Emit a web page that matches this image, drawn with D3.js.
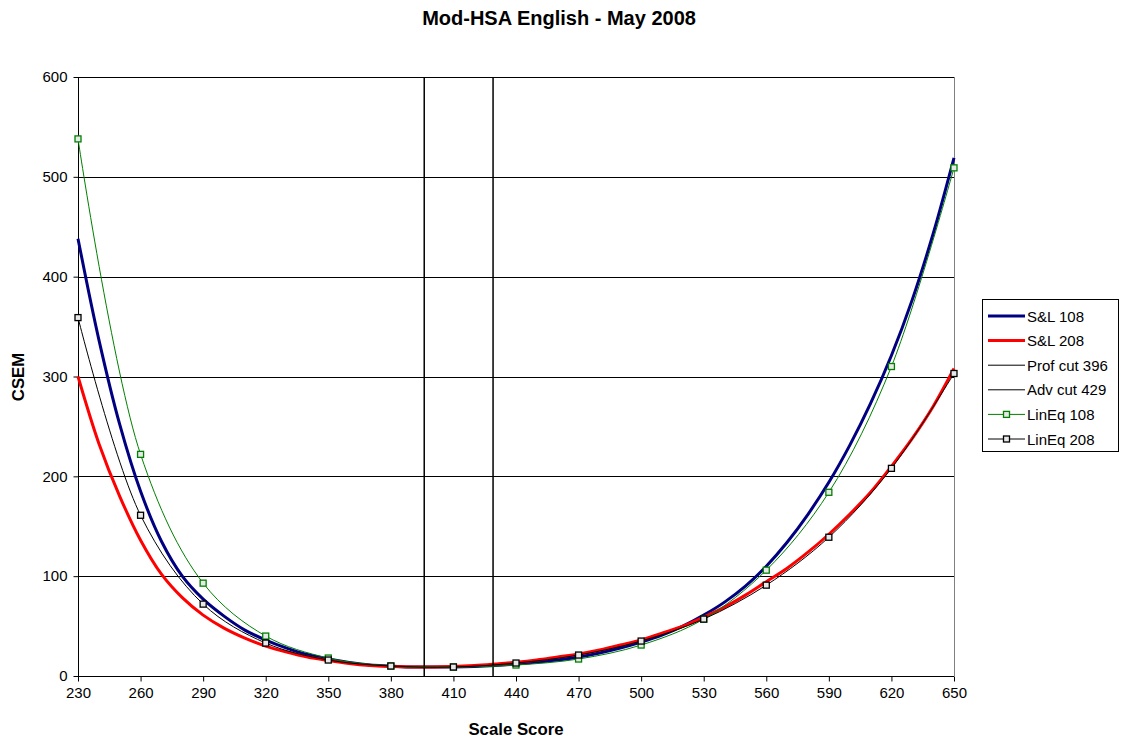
<!DOCTYPE html>
<html>
<head>
<meta charset="utf-8">
<script src="https://cdn.jsdelivr.net/npm/d3@7"></script>
<style>
  html, body { margin: 0; padding: 0; background: #fff; }
  svg { display: block; font-family: "Liberation Sans", Arial, sans-serif; }
</style>
</head>
<body>
<svg id="chart" width="1121" height="743"></svg>
<script>
// ---- data ----
const slScores = [230,240,250,260,270,280,290,300,310,320,330,340,350,360,370,380,390,400,410,420,430,440,450,460,470,480,490,500,510,520,530,540,550,560,570,580,590,600,610,620,630,640,650];
const sl108 = [438,337,252,185,135,100,77,60,46,36,28,21.5,17,13.5,11,10,9,9,9,9.5,10.5,12,14,16,19,23,28,34,41,50,61,74,90,110,134,162,194,231,273,321,377,443,519];
const sl208 = [300,233,180,136,102,78.5,61,48,38,30,24,19,15.5,12.5,10.5,9.5,9,9,9.5,10.5,12,13.7,16,19,22,26,31,36,43,50,59,69,81,94.5,108,124,142,162,184,210,238,270,308];
const linScores = [230,260,290,320,350,380,410,440,470,500,530,560,590,620,650];
const linEq108 = [538,222,93,40,18,10,9,11,17,31,57,106,184,310,509];
const linEq208 = [359,161,72,33,16,10,9,13,21,35,57,91,139,208,303];
const profCut = 396;
const advCut = 429;
const xTicks = [230,260,290,320,350,380,410,440,470,500,530,560,590,620,650];
const yTicks = [0,100,200,300,400,500,600];
const seriesNames = ["S&L 108","S&L 208","Prof cut 396","Adv cut 429","LinEq 108","LinEq 208"];

// ---- layout ----
const svg = d3.select("#chart");
const L = 78, R = 954, T = 77, B = 676;
const x = d3.scaleLinear().domain([230,650]).range([L,R]);
const y = d3.scaleLinear().domain([0,600]).range([B,T]);

// gridlines
svg.append("g").selectAll("line").data(yTicks.filter(d => d > 0)).join("line")
  .attr("x1", L).attr("x2", R)
  .attr("y1", d => Math.round(y(d)) + 0.5).attr("y2", d => Math.round(y(d)) + 0.5)
  .attr("stroke", "#000").attr("stroke-width", 1);

// plot area right border
svg.append("line").attr("x1", R + 0.5).attr("x2", R + 0.5).attr("y1", T).attr("y2", B)
  .attr("stroke", "#808080").attr("stroke-width", 1);

// axes
const xAxis = d3.axisBottom(x).tickValues(xTicks).tickSize(5).tickPadding(6).tickFormat(d3.format("d"));
const gx = svg.append("g").attr("transform", `translate(0,${B + 0.5})`).call(xAxis);
const yAxis = d3.axisLeft(y).tickValues(yTicks).tickSize(5).tickPadding(6).tickFormat(d3.format("d"));
const gy = svg.append("g").attr("transform", `translate(${L + 0.5},0)`).call(yAxis);
[gx, gy].forEach(g => {
  g.selectAll("path").attr("stroke", "#000");
  g.selectAll("line").attr("stroke", "#000");
  g.selectAll("text").attr("font-size", 15).attr("fill", "#000")
    .attr("font-family", "'Liberation Sans', Arial, sans-serif");
});
gx.select(".domain").attr("d", `M${L},0H${R}`);
gy.select(".domain").attr("d", `M0,${T}V${B}`);

// series
const lineGen = d3.line().x(d => x(d[0])).y(d => y(d[1])).curve(d3.curveCatmullRom.alpha(0.5));
const plot = svg.append("g");

plot.append("path").datum(slScores.map((s,i) => [s, sl108[i]]))
  .attr("d", lineGen).attr("fill", "none").attr("stroke", "#000080").attr("stroke-width", 3);
plot.append("path").datum(slScores.map((s,i) => [s, sl208[i]]))
  .attr("d", lineGen).attr("fill", "none").attr("stroke", "#ff0000").attr("stroke-width", 3);

[profCut, advCut].forEach(c => {
  plot.append("line").attr("x1", x(c)).attr("x2", x(c)).attr("y1", y(0)).attr("y2", y(600))
    .attr("stroke", "#000").attr("stroke-width", 1.5);
});

const linSeries = [
  {vals: linEq108, color: "#008000"},
  {vals: linEq208, color: "#000000"}
];
linSeries.forEach(s => {
  const pts = linScores.map((sc,i) => [sc, s.vals[i]]);
  plot.append("path").datum(pts).attr("d", lineGen)
    .attr("fill", "none").attr("stroke", s.color).attr("stroke-width", 1);
  plot.append("g").selectAll("rect").data(pts).join("rect")
    .attr("x", d => x(d[0]) - 3).attr("y", d => y(d[1]) - 3)
    .attr("width", 6).attr("height", 6)
    .attr("fill", "#e8e8e8").attr("stroke", s.color).attr("stroke-width", 1.3);
});

// title & axis labels
svg.append("text").attr("x", 559).attr("y", 25).attr("text-anchor", "middle")
  .attr("font-size", 20).attr("font-weight", "bold").text("Mod-HSA English - May 2008");
svg.append("text").attr("x", 516).attr("y", 735).attr("text-anchor", "middle")
  .attr("font-size", 16.8).attr("font-weight", "bold").text("Scale Score");
svg.append("text").attr("transform", "translate(24,377) rotate(-90)").attr("text-anchor", "middle")
  .attr("font-size", 16.8).attr("font-weight", "bold").text("CSEM");

// legend
const lg = svg.append("g");
lg.append("rect").attr("x", 982.5).attr("y", 299.5).attr("width", 136).attr("height", 152)
  .attr("fill", "#fff").attr("stroke", "#000").attr("stroke-width", 1);
const legStyles = [
  {color: "#000080", w: 3, marker: false},
  {color: "#ff0000", w: 3, marker: false},
  {color: "#000", w: 1, marker: false},
  {color: "#000", w: 1, marker: false},
  {color: "#008000", w: 1, marker: true},
  {color: "#000", w: 1, marker: true}
];
seriesNames.forEach((name, i) => {
  const cy = 316 + i * 24.6;
  const st = legStyles[i];
  lg.append("line").attr("x1", 988).attr("x2", 1025).attr("y1", cy).attr("y2", cy)
    .attr("stroke", st.color).attr("stroke-width", st.w);
  if (st.marker) {
    lg.append("rect").attr("x", 1006.5 - 3).attr("y", cy - 3).attr("width", 6).attr("height", 6)
      .attr("fill", "#e8e8e8").attr("stroke", st.color).attr("stroke-width", 1.3);
  }
  lg.append("text").attr("x", 1027).attr("y", cy + 5.5).attr("font-size", 15).text(name);
});
</script>
</body>
</html>
